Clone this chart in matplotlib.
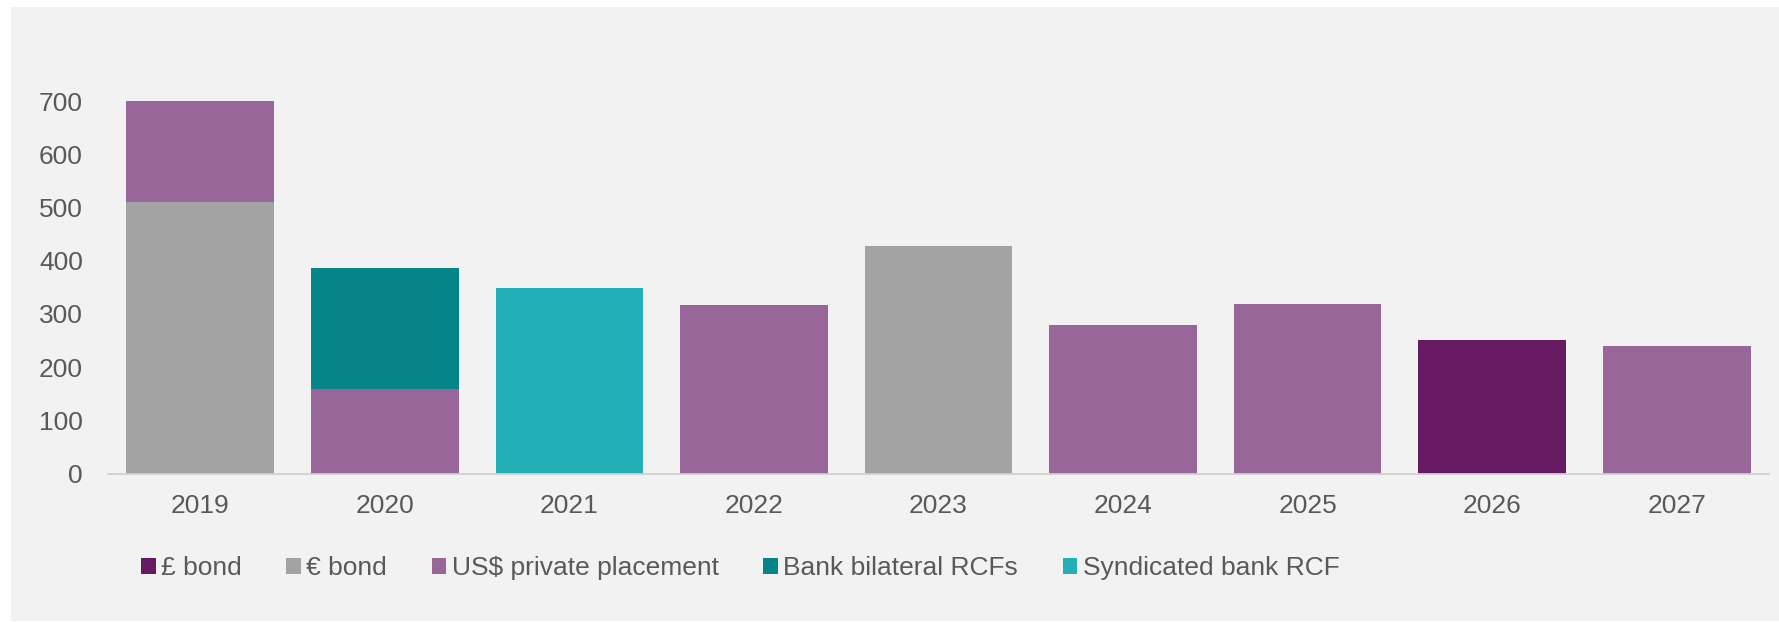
import matplotlib
matplotlib.use("Agg")
import matplotlib.pyplot as plt
from matplotlib.patches import Rectangle, Patch
import numpy as np

plt.rcParams['font.family'] = ['Liberation Sans', 'DejaVu Sans']

# Debt maturity profile by year and instrument
years = ["2019", "2020", "2021", "2022", "2023", "2024", "2025", "2026", "2027"]
gbp_bond = [0, 0, 0, 0, 0, 0, 0, 250, 0]
eur_bond = [510, 0, 0, 0, 427, 0, 0, 0, 0]
usd_private_placement = [190, 158, 0, 316, 0, 279, 318, 0, 239]
bank_bilateral_rcfs = [0, 228, 0, 0, 0, 0, 0, 0, 0]
syndicated_bank_rcf = [0, 0, 348, 0, 0, 0, 0, 0, 0]

series = [
    ("£ bond", gbp_bond, "#661A61"),
    ("€ bond", eur_bond, "#A3A3A3"),
    ("US$ private placement", usd_private_placement, "#996699"),
    ("Bank bilateral RCFs", bank_bilateral_rcfs, "#058588"),
    ("Syndicated bank RCF", syndicated_bank_rcf, "#22AFB5"),
]

text_color = "#595959"
panel_color = "#F2F2F2"
fs = 19

fig = plt.figure(figsize=(17.79, 6.22), dpi=100)
fig.patch.set_facecolor("white")
fig.patches.append(Rectangle((11 / 1779, 1 / 622), 1 - 11 / 1779, 614 / 622,
                             transform=fig.transFigure, facecolor=panel_color,
                             edgecolor="none", zorder=-10))

ax = fig.add_axes([108 / 1779, 1 - 473.5 / 622, (1769 - 108) / 1779, 425.7 / 622])
ax.set_facecolor("none")
ax.set_zorder(1)

x = np.arange(len(years))
bottom = np.zeros(len(years))
for label, values, color in series:
    vals = np.array(values, dtype=float)
    ax.bar(x, vals, width=0.8, bottom=bottom, color=color, edgecolor="none",
           label=label, zorder=2)
    bottom += vals

ax.set_xlim(-0.5, len(years) - 0.5)
ax.set_ylim(0, 800)
ax.set_yticks(range(0, 701, 100))
ax.set_xticks(x)
ax.set_xticklabels(years)

for side in ["top", "right", "left"]:
    ax.spines[side].set_visible(False)
ax.spines["bottom"].set_color("#D0D0D0")
ax.spines["bottom"].set_linewidth(1.3)
ax.spines["bottom"].set_zorder(3)

ax.tick_params(axis="y", length=0, pad=18, labelsize=fs, labelcolor=text_color)
ax.tick_params(axis="x", length=0, pad=15, labelsize=fs, labelcolor=text_color)

handles = [Patch(facecolor=c, edgecolor="none", label=l) for l, _, c in series]
fig.legend(handles=handles, loc="center left", bbox_to_anchor=(141 / 1779, 1 - 568 / 622),
           ncol=5, frameon=False, fontsize=fs, labelcolor=text_color,
           handlelength=0.55, handleheight=0.55, handletextpad=0.2,
           columnspacing=1.7, borderpad=0, borderaxespad=0)

fig.savefig("out.png", dpi=100, facecolor=fig.get_facecolor())
